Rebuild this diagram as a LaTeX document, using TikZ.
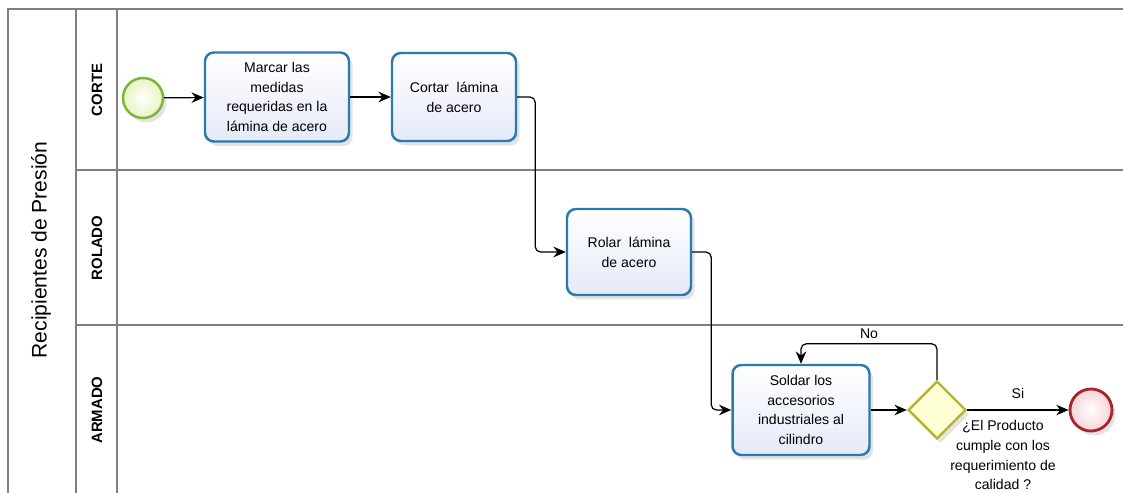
\documentclass[tikz,border=0pt]{standalone}
\usepackage{fontspec}
\setmainfont{Liberation Sans}
\usepackage{tikz}
\usetikzlibrary{arrows.meta,shapes.geometric,shadows,positioning,calc}

\definecolor{linea}{HTML}{808080}
\definecolor{bordeTarea}{HTML}{2A7AAE}
\definecolor{fondoTarea}{HTML}{E4EAF8}
\definecolor{bordeInicio}{HTML}{78B63C}
\definecolor{fondoInicio}{HTML}{E8F4C0}
\definecolor{bordeFin}{HTML}{A8262A}
\definecolor{fondoFin}{HTML}{F6D4D6}
\definecolor{bordePuerta}{HTML}{B4B42C}
\definecolor{fondoPuerta}{HTML}{FFFFD6}

\tikzset{
  sombra/.style={drop shadow={opacity=0.22, shadow xshift=2pt, shadow yshift=-2.5pt}},
  tarea/.style={draw=bordeTarea, line width=1.4pt, rounded corners=5pt, sombra,
    top color=white, bottom color=fondoTarea, align=center, inner sep=2pt,
    font=\fontsize{8}{11.3}\selectfont},
  inicio/.style={draw=bordeInicio, circle, line width=1.4pt, minimum size=0.8cm, sombra,
    inner color=white, outer color=fondoInicio},
  fin/.style={draw=bordeFin, circle, line width=1.6pt, minimum size=0.84cm, sombra,
    inner color=white, outer color=fondoFin},
  puerta/.style={draw=bordePuerta, diamond, line width=1.4pt, minimum size=1.16cm, sombra,
    inner sep=0pt, fill=fondoPuerta},
  carril/.style={draw=linea, line width=1.1pt},
  flujo/.style={draw=black, line width=0.7pt, rounded corners=3pt,
    -{Stealth[length=7pt,width=6pt]}},
  nombreCarril/.style={rotate=90, font=\fontsize{8.5}{10}\selectfont\bfseries},
  nota/.style={font=\fontsize{8}{11.3}\selectfont, align=center}
}

\begin{document}
\begin{tikzpicture}[x=0.02cm, y=-0.02cm]
      \useasboundingbox (0,0) rectangle (1123,493);

      % pool y carriles
      \draw[carril] (8,493) -- (8,9) -- (1123,9);
      \draw[carril] (76,9) -- (76,493);
      \draw[carril] (117,9) -- (117,493);
      \draw[carril] (76,170) -- (1123,170);
      \draw[carril] (76,325) -- (1123,325);

      \node[rotate=90, font=\fontsize{12}{14}\selectfont] (pool) at (41,250) {Recipientes de Presión};
      \node[nombreCarril] (corte) at (97,90) {CORTE};
      \node[nombreCarril] (rolado) at (97,248) {ROLADO};
      \node[nombreCarril] (armado) at (97,410) {ARMADO};

      % elementos
      \node[inicio] (ini) at (143,98) {};
      \node[tarea, minimum width=2.88cm, minimum height=1.78cm] (marcar) at (277,97)
        {Marcar las\\medidas\\requeridas en la\\lámina de acero};
      \node[tarea, minimum width=2.48cm, minimum height=1.76cm] (cortar) at (454,97)
        {Cortar\ \ lámina\\de acero};
      \node[tarea, minimum width=2.48cm, minimum height=1.72cm] (rolar) at (629,252)
        {Rolar\ \ lámina\\de acero};
      \node[tarea, minimum width=2.74cm, minimum height=1.8cm] (soldar) at (801,410)
        {Soldar los\\accesorios\\industriales al\\cilindro};
      \node[puerta] (control) at (937,410) {};
      \node[fin] (fin) at (1091,410) {};
      \node[nota, anchor=north] (pregunta) at (1003,414)
        {¿El Producto\\cumple con los\\requerimiento de\\calidad ?};

      % flujos
      \draw[flujo] (ini) -- (marcar);
      \draw[flujo] (marcar) -- (cortar);
      \draw[flujo] (cortar.east) -- ++(18,0) |- (rolar.west);
      \draw[flujo] (rolar.east) -- ++(19,0) |- (soldar.west);
      \draw[flujo] (soldar) -- (control);
      \draw[flujo] (control.east) -- node[nota, above=3pt] {Si} (fin.west);
      \draw[flujo] (control.north) -- ++(0,-36) -| node[nota, pos=0.25, above=-1pt] {No} (soldar.north);
    \end{tikzpicture}
\end{document}
